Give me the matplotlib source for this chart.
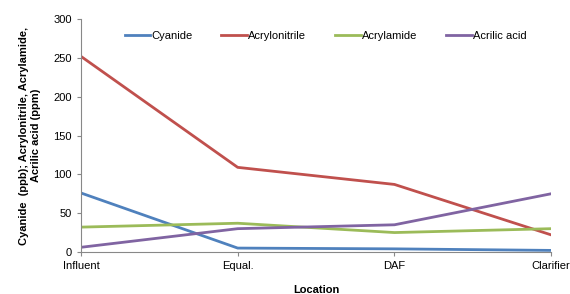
import matplotlib
matplotlib.use('Agg')
import matplotlib.pyplot as plt

plt.rcParams['font.family'] = ['Liberation Sans', 'DejaVu Sans']

locations = ['Influent', 'Equal.', 'DAF', 'Clarifier']
cyanide = [76, 5, 4, 2]
acrylonitrile = [252, 109, 87, 22]
acrylamide = [32, 37, 25, 30]
acrilic_acid = [6, 30, 35, 75]

series = [
    ('Cyanide', cyanide, '#4F81BD'),
    ('Acrylonitrile', acrylonitrile, '#C0504D'),
    ('Acrylamide', acrylamide, '#9BBB59'),
    ('Acrilic acid', acrilic_acid, '#8064A2'),
]

fig = plt.figure(figsize=(5.7, 2.94), dpi=100)
ax = fig.add_axes([0.142, 0.143, 0.825, 0.792])

x = range(len(locations))
for name, vals, col in series:
    ax.plot(x, vals, color=col, lw=2, label=name)

ax.set_xlim(0, len(locations) - 1)
ax.set_ylim(0, 300)
ax.set_yticks(range(0, 301, 50))
ax.set_xticks(list(x))
ax.set_xticklabels(locations)
ax.tick_params(labelsize=8, color='#888888', length=3, width=0.8)

for s in ['top', 'right']:
    ax.spines[s].set_visible(False)
for s in ['left', 'bottom']:
    ax.spines[s].set_color('#888888')
    ax.spines[s].set_linewidth(0.8)

ax.set_xlabel('Location', fontsize=8, fontweight='bold', labelpad=10)
ax.set_ylabel('Cyanide  (ppb); Acrylonitrile, Acrylamide,\nAcrilic acid (ppm)',
              fontsize=8, fontweight='bold', labelpad=9)

ax.legend(loc='center', bbox_to_anchor=(0.52, 0.928), ncol=4, frameon=False,
          fontsize=8, handlelength=2.3, handletextpad=0.1, columnspacing=2.6)

fig.savefig('out.png', dpi=100)
